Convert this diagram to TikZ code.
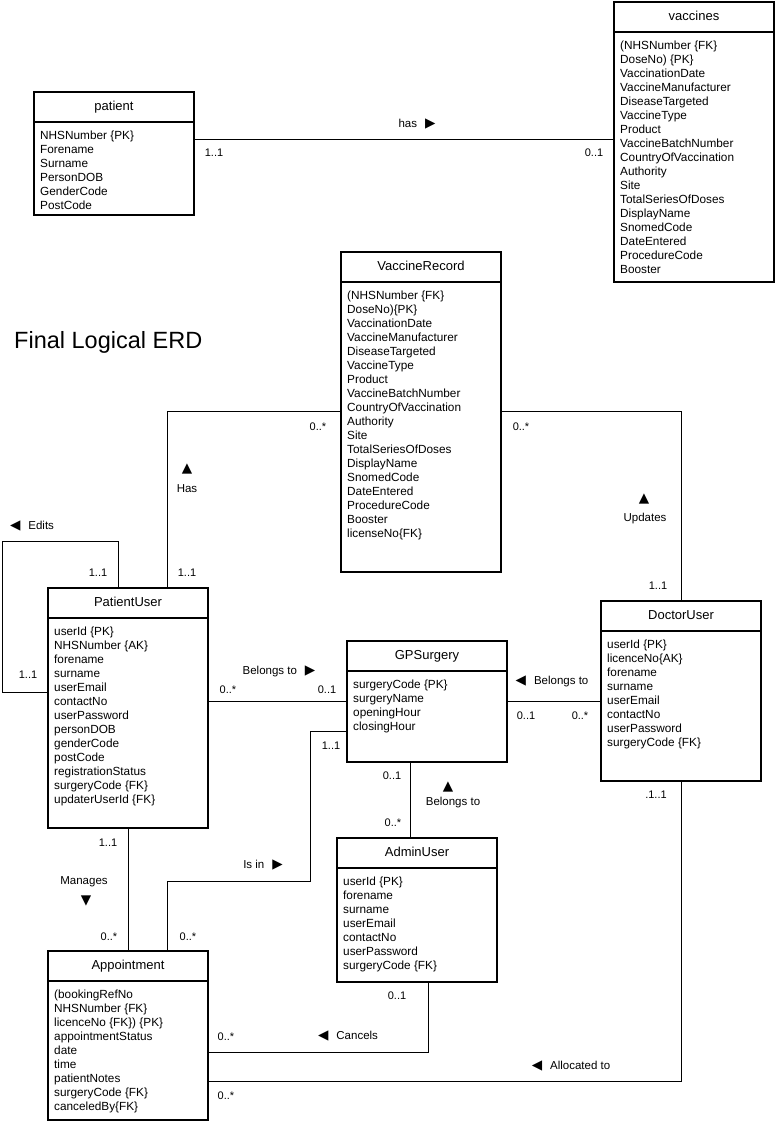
\documentclass[tikz,border=0pt]{standalone}
\usepackage{fontspec}
\setmainfont{Liberation Sans}
\newfontfamily\trifont{DejaVu Sans}
\newcommand{\tri}[1]{{\trifont\fontsize{13.5}{14}\selectfont #1}}
\usetikzlibrary{positioning}

\begin{document}
\begin{tikzpicture}[x=1pt, y=-1pt]
    \tikzstyle{headbox}=[draw, line width=1.6pt, outer sep=0pt, inner sep=0pt, minimum width=160pt, minimum height=30pt, text height=9pt, text depth=2.5pt, font=\fontsize{13}{15}\selectfont]
    \tikzstyle{bodybox}=[draw, line width=1.6pt, outer sep=0pt, inner sep=0pt, minimum width=160pt]
    \tikzstyle{attrs}=[align=left, inner sep=0pt, anchor=north west, font=\fontsize{11.8}{14}\selectfont]
    \tikzstyle{card}=[inner sep=0pt, font=\fontsize{11}{13}\selectfont]
    \tikzstyle{rel}=[inner sep=0pt, font=\fontsize{11.5}{14}\selectfont]
    \tikzstyle{link}=[line width=0.9pt]

    \useasboundingbox (0,0) rectangle (776,1122);

    \node[anchor=west, inner sep=0pt, font=\fontsize{23.5}{28}\selectfont] (title) at (14,342) {Final Logical ERD};

    % patient / vaccines
    \node[headbox, anchor=north west] (pt) at (34,92) {patient};
    \node[bodybox, minimum height=93pt, below=0pt of pt] (pt_body) {};
    \node[attrs] (pt_attr) at ([xshift=6pt, yshift=-8.5pt]pt_body.north west) {NHSNumber \{PK\}\\Forename\\Surname\\PersonDOB\\GenderCode\\PostCode};

    \node[headbox, anchor=north west] (vc) at (614,2) {vaccines};
    \node[bodybox, minimum height=250pt, below=0pt of vc] (vc_body) {};
    \node[attrs] (vc_attr) at ([xshift=6pt, yshift=-8.5pt]vc_body.north west) {(NHSNumber \{FK\}\\DoseNo) \{PK\}\\VaccinationDate\\VaccineManufacturer\\DiseaseTargeted\\VaccineType\\Product\\VaccineBatchNumber\\CountryOfVaccination\\Authority\\Site\\TotalSeriesOfDoses\\DisplayName\\SnomedCode\\DateEntered\\ProcedureCode\\Booster};

    \draw[link] ([yshift=-17pt]pt_body.north east) coordinate (has_a) -- (has_a -| vc_body.west);
    \node[rel] (has_lbl) at (417,124) {has\hspace{8pt}\tri{▶}};
    \node[card] at (214,153) {1..1};
    \node[card] at (594,153) {0..1};

    % Final logical ERD
    \node[headbox, anchor=north west] (vr) at (341,252) {VaccineRecord};
    \node[bodybox, minimum height=290pt, below=0pt of vr] (vr_body) {};
    \node[attrs] (vr_attr) at ([xshift=6pt, yshift=-8.5pt]vr_body.north west) {(NHSNumber \{FK\}\\DoseNo)\{PK\}\\VaccinationDate\\VaccineManufacturer\\DiseaseTargeted\\VaccineType\\Product\\VaccineBatchNumber\\CountryOfVaccination\\Authority\\Site\\TotalSeriesOfDoses\\DisplayName\\SnomedCode\\DateEntered\\ProcedureCode\\Booster\\licenseNo\{FK\}};

    \node[headbox, anchor=north west] (pu) at (48,588) {PatientUser};
    \node[bodybox, minimum height=210pt, below=0pt of pu] (pu_body) {};
    \node[attrs] (pu_attr) at ([xshift=6pt, yshift=-8.5pt]pu_body.north west) {userId \{PK\}\\NHSNumber \{AK\}\\forename\\surname\\userEmail\\contactNo\\userPassword\\personDOB\\genderCode\\postCode\\registrationStatus\\surgeryCode \{FK\}\\updaterUserId \{FK\}};

    \node[headbox, anchor=north west] (gp) at (347,641) {GPSurgery};
    \node[bodybox, minimum height=91pt, below=0pt of gp] (gp_body) {};
    \node[attrs] (gp_attr) at ([xshift=6pt, yshift=-8.5pt]gp_body.north west) {surgeryCode \{PK\}\\surgeryName\\openingHour\\closingHour};

    \node[headbox, anchor=north west] (dr) at (601,601) {DoctorUser};
    \node[bodybox, minimum height=150pt, below=0pt of dr] (dr_body) {};
    \node[attrs] (dr_attr) at ([xshift=6pt, yshift=-8.5pt]dr_body.north west) {userId \{PK\}\\licenceNo\{AK\}\\forename\\surname\\userEmail\\contactNo\\userPassword\\surgeryCode \{FK\}};

    \node[headbox, anchor=north west] (ad) at (337,838) {AdminUser};
    \node[bodybox, minimum height=114pt, below=0pt of ad] (ad_body) {};
    \node[attrs] (ad_attr) at ([xshift=6pt, yshift=-8.5pt]ad_body.north west) {userId \{PK\}\\forename\\surname\\userEmail\\contactNo\\userPassword\\surgeryCode \{FK\}};

    \node[headbox, anchor=north west] (ap) at (48,951) {Appointment};
    \node[bodybox, minimum height=139pt, below=0pt of ap] (ap_body) {};
    \node[attrs] (ap_attr) at ([xshift=6pt, yshift=-8.5pt]ap_body.north west) {(bookingRefNo\\NHSNumber \{FK\}\\licenceNo \{FK\}) \{PK\}\\appointmentStatus\\date\\time\\patientNotes\\surgeryCode \{FK\}\\canceledBy\{FK\}};

    \coordinate (edit_c) at (2,541);
    \coordinate (isin_c) at (310,881);

    \draw[link] ([xshift=39pt]pu.north) |- ([yshift=-129pt]vr_body.north west);
    \draw[link] ([yshift=-129pt]vr_body.north east) -| (dr.north);
    \draw[link] ([xshift=-10pt]pu.north) |- (edit_c) |- ([yshift=-74pt]pu_body.north west);
    \draw[link] ([yshift=-30pt]gp_body.north west) coordinate (gp_w) -- (gp_w -| pu_body.east);
    \draw[link] ([yshift=-30pt]gp_body.north east) coordinate (gp_e) -- (gp_e -| dr_body.west);
    \draw[link] ([xshift=-17pt]gp_body.south) coordinate (gp_s) -- (gp_s |- ad.north);
    \draw[link] (pu_body.south) -- (ap.north);
    \draw[link] ([xshift=39pt]ap.north) |- (isin_c) |- ([yshift=-60pt]gp_body.north west);
    \draw[link] ([xshift=11pt]ad_body.south) |- ([yshift=-71pt]ap_body.north east);
    \draw[link] (dr_body.south) |- ([yshift=-100pt]ap_body.north east);

    % relationship labels
    \node[card] at (318,427) {0..*};
    \node[card] at (521,427) {0..*};
    \node[rel] at (187,469) {\tri{▲}};
    \node[rel] at (187,489) {Has};
    \node[card] at (98,573) {1..1};
    \node[card] at (187,573) {1..1};
    \node[rel] at (644,499) {\tri{▲}};
    \node[rel] at (645,519) {Updates};
    \node[card] at (658,586) {1..1};
    \node[rel] at (32,526) {\tri{◀}\hspace{8pt}Edits};
    \node[card] at (28,675) {1..1};
    \node[rel] at (279,671) {Belongs to\hspace{8pt}\tri{▶}};
    \node[card] at (228,690) {0..*};
    \node[card] at (327,690) {0..1};
    \node[rel] at (552,681) {\tri{◀}\hspace{8pt}Belongs to};
    \node[card] at (526,716) {0..1};
    \node[card] at (580,716) {0..*};
    \node[card] at (656,795) {.1..1};
    \node[card] at (331,746) {1..1};
    \node[card] at (392,776) {0..1};
    \node[rel] at (448,787) {\tri{▲}};
    \node[rel] at (453,803) {Belongs to};
    \node[card] at (393,823) {0..*};
    \node[card] at (108,843) {1..1};
    \node[rel] at (84,882) {Manages};
    \node[rel] at (86,901) {\tri{▼}};
    \node[card] at (109,937) {0..*};
    \node[card] at (188,937) {0..*};
    \node[rel] at (263,865) {Is in\hspace{8pt}\tri{▶}};
    \node[card] at (397,996) {0..1};
    \node[rel] at (348,1036) {\tri{◀}\hspace{8pt}Cancels};
    \node[card] at (226,1037) {0..*};
    \node[rel] at (571,1066) {\tri{◀}\hspace{8pt}Allocated to};
    \node[card] at (226,1096) {0..*};
\end{tikzpicture}
\end{document}
